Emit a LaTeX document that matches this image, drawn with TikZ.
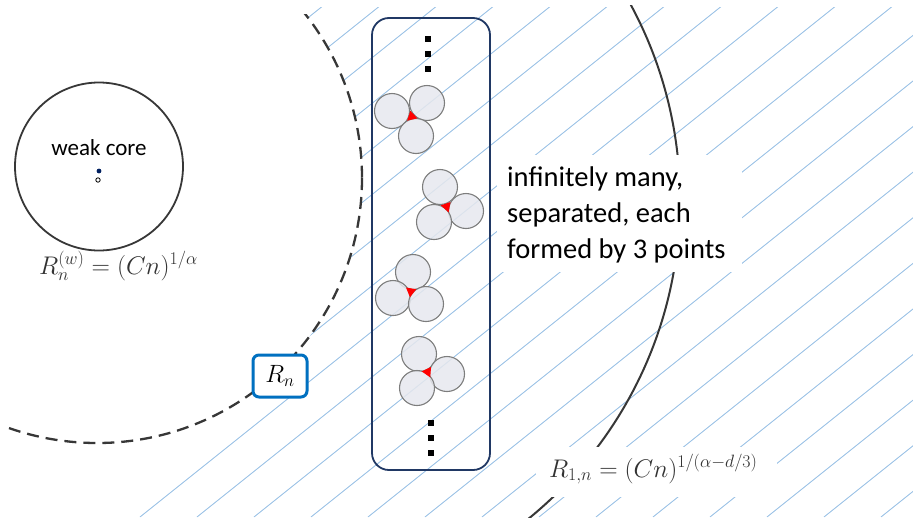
\RequirePackage{fix-cm}
\documentclass[tikz,border=0pt]{standalone}
\usepackage{fontspec}
\newfontfamily\carl{Carlito}
\usetikzlibrary{calc}
\definecolor{hatchblue}{RGB}{157,195,230}
\definecolor{navyline}{RGB}{32,56,100}
\definecolor{boxblue}{RGB}{0,112,192}
\definecolor{darkline}{RGB}{55,55,55}
\definecolor{discfill}{RGB}{230,232,238}
\definecolor{discline}{RGB}{125,125,125}
\definecolor{coredot}{RGB}{0,32,96}
\definecolor{mathgray}{RGB}{50,50,50}
\tikzset{
  hatch/.style={draw=hatchblue, line width=0.9pt},
  disc/.style={circle, draw=discline, line width=1.1pt, fill=discfill, fill opacity=0.85, draw opacity=1, minimum size=35pt, inner sep=0pt},
  sqdot/.style={fill=black, minimum size=5.5pt, inner sep=0pt},
  mathlbl/.style={text=mathgray, font=\fontsize{25.5}{30}\selectfont, inner sep=0pt},
}
\newcommand\cluster[4]{%
  \node[disc] (#1a) at #2 {};
  \node[disc] (#1b) at #3 {};
  \node[disc] (#1c) at #4 {};
  \coordinate (#1g) at ($1/3*(#1a)+1/3*(#1b)+1/3*(#1c)$);
  \coordinate (#1ab) at ($(#1a)!0.5!(#1b)$);
  \coordinate (#1bc) at ($(#1b)!0.5!(#1c)$);
  \coordinate (#1ac) at ($(#1a)!0.5!(#1c)$);
  \fill[red] ($(#1g)!6pt!(#1ab)$) -- ($(#1g)!6pt!(#1bc)$) -- ($(#1g)!6pt!(#1ac)$) -- cycle;
}
\begin{document}
\begin{tikzpicture}[x=1pt,y=-1pt]
\useasboundingbox (0,0) rectangle (913,517);
\clip (0,0) rectangle (913,517);
% hatching
\begin{scope}
  \clip (913,7) -- (913,517) -- (118,517) -- (258,405) -- (200,300) -- (200,7) -- cycle;
  \foreach \k in {-10,...,14} {
    \draw[hatch] ({140+57*\k},517) -- ++(700,-560);
  }
\end{scope}
% inner region (white)
\fill[white] (97,178) circle[radius=265];
% dashed boundary R_n
\begin{scope}
  \clip (8,14) rectangle (913,517);
  \draw[darkline, line width=2.3pt, dash pattern=on 12pt off 7pt] (97,178) circle[radius=265];
\end{scope}
% outer solid boundary R_{1,n}
\begin{scope}
  \clip (400,5) rectangle (913,517);
  \draw[darkline, line width=2pt] (269,200) circle[radius=411];
\end{scope}
% text box
\fill[white] (497,155) rectangle (742,272);
\node[anchor=base west, font=\carl\fontsize{28.5}{36}\selectfont, inner sep=0pt] (t1) at (507,186) {infinitely many,};
\node[anchor=base west, font=\carl\fontsize{28.5}{36}\selectfont, inner sep=0pt] (t2) at (507,222) {separated, each};
\node[anchor=base west, font=\carl\fontsize{28.5}{36}\selectfont, inner sep=0pt] (t3) at (507,258) {formed by 3 points};
% R_{1,n} label
\fill[white] (536,447) rectangle (777,497);
\node[mathlbl, anchor=base west] (r1n) at (549,477) {$R_{1,n} = (Cn)^{1/(\alpha-d/3)}$};
% weak core
\node[circle, draw=darkline, line width=1.8pt, minimum size=168pt, inner sep=0pt] (core) at (99,166.5) {};
\node[font=\carl\fontsize{23}{27}\selectfont, inner sep=0pt] (wc) at (99,148) {weak core};
\fill[coredot] (99,171) circle[radius=2.4];
\draw[black, line width=0.8pt] (98,180) circle[radius=2.2];
\node[mathlbl, anchor=base west] (rw) at (39,274) {$R_n^{(w)} = (Cn)^{1/\alpha}$};
% group box
\node[draw=navyline, line width=1.8pt, rounded corners=17pt, minimum width=118pt, minimum height=452pt, inner sep=0pt] (group) at (431,244) {};
\cluster{p}{(392,111)}{(427,103)}{(416,136)}
\cluster{q}{(440,187)}{(466,211)}{(434,222)}
\cluster{s}{(413,272)}{(393,298)}{(426,304)}
\cluster{u}{(419,354)}{(447,374)}{(417,388)}
% dots
\node[sqdot] (d1) at (428,39) {};
\node[sqdot] (d2) at (428,54) {};
\node[sqdot] (d3) at (428,69) {};
\node[sqdot] (d4) at (431,423) {};
\node[sqdot] (d5) at (431,438) {};
\node[sqdot] (d6) at (431,453) {};
% R_n box
\node[draw=boxblue, line width=3pt, fill=white, rounded corners=6pt, minimum width=54pt, minimum height=42pt, inner sep=0pt, font=\fontsize{25}{30}\selectfont] (rn) at (280,376) {$R_n$};
\end{tikzpicture}
\end{document}
